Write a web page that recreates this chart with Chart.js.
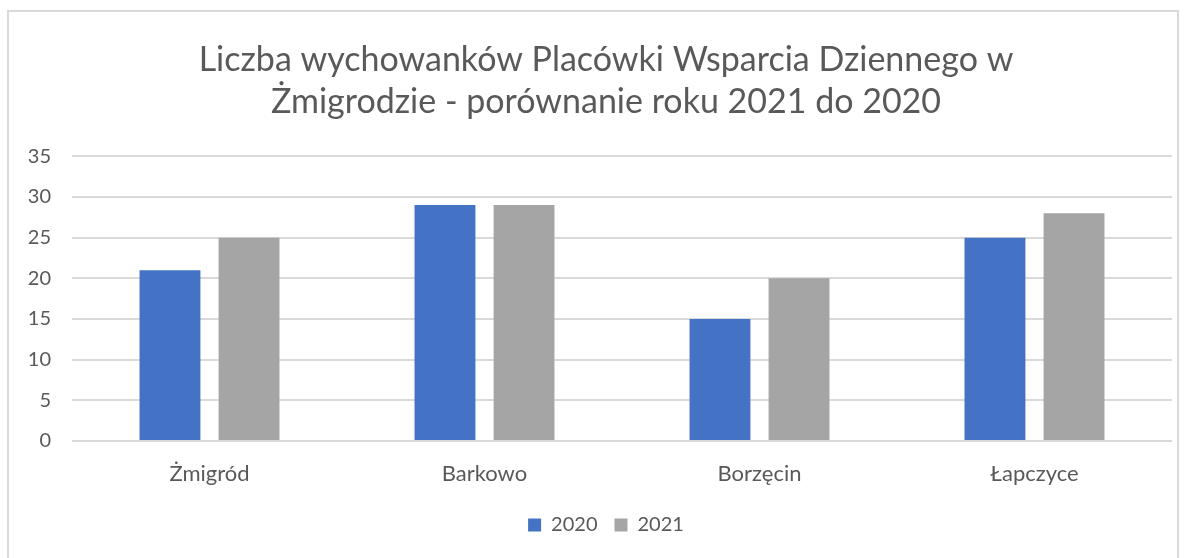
<!DOCTYPE html>
<html>
<head>
<meta charset="utf-8">
<script src="https://cdn.jsdelivr.net/npm/chart.js@4"></script>
<style>
  html, body { margin: 0; padding: 0; background: #fff; }
  #wrap { width: 1186px; height: 558px; }
</style>
</head>
<body>
<div id="wrap"><canvas id="myChart" width="1186" height="558"></canvas></div>
<script>
const categories = ['Żmigród', 'Barkowo', 'Borzęcin', 'Łapczyce'];
const values2020 = [21, 29, 15, 25];
const values2021 = [25, 29, 20, 28];
const yTicks = [0, 5, 10, 15, 20, 25, 30, 35];

const textColor = '#595959';

// outer frame of the chart
const framePlugin = {
    id: 'frame',
    beforeDraw(chart) {
        const c = chart.ctx;
        c.save();
        c.fillStyle = '#fff';
        c.fillRect(0, 0, chart.width, chart.height);
        c.strokeStyle = '#d9d9d9';
        c.lineWidth = 2;
        c.strokeRect(8, 11, 1170, 560);
        c.restore();
    }
};

const ctx = document.getElementById('myChart').getContext('2d');
const myChart = new Chart(ctx, {
    type: 'bar',
    data: {
        labels: categories,
        datasets: [
            {
                label: '2020',
                data: values2020,
                backgroundColor: '#4472C4',
                categoryPercentage: 0.575,
                barPercentage: 0.77
            },
            {
                label: '2021',
                data: values2021,
                backgroundColor: '#A5A5A5',
                categoryPercentage: 0.575,
                barPercentage: 0.77
            }
        ]
    },
    options: {
        responsive: false,
        animation: false,
        layout: {
            padding: { left: 26, right: 0, top: 0, bottom: 13 }
        },
        scales: {
            x: {
                grid: { display: false, drawTicks: false },
                border: { display: false },
                ticks: {
                    color: textColor,
                    font: { family: 'Lato', size: 22 },
                    padding: 20
                },
                afterFit(scale) { scale.height = 57; }
            },
            y: {
                min: 0,
                max: 35,
                afterBuildTicks(scale) {
                    scale.ticks = yTicks.map(v => ({ value: v }));
                },
                grid: { color: '#d9d9d9', lineWidth: 2, drawTicks: false },
                border: { display: false },
                ticks: {
                    color: textColor,
                    font: { family: 'Lato', size: 20 },
                    padding: 21
                },
                afterFit(scale) { scale.width = 46; }
            },
            // empty axis on the right, only keeps a margin after the grid
            yRight: {
                position: 'right',
                grid: { display: false, drawTicks: false },
                border: { display: false },
                ticks: { display: false },
                afterFit(scale) { scale.width = 14; }
            }
        },
        plugins: {
            title: {
                display: true,
                text: ['Liczba wychowanków Placówki Wsparcia Dziennego w', 'Żmigrodzie - porównanie roku 2021 do 2020'],
                color: textColor,
                font: { family: 'Lato', size: 34, weight: 'normal', lineHeight: 1.24 },
                padding: { top: 39, bottom: 33 }
            },
            legend: {
                position: 'bottom',
                labels: {
                    color: textColor,
                    font: { family: 'Lato', size: 20 },
                    boxWidth: 13,
                    boxHeight: 13,
                    padding: 17
                }
            },
            tooltip: { enabled: false }
        }
    },
    plugins: [framePlugin]
});
</script>
</body>
</html>
